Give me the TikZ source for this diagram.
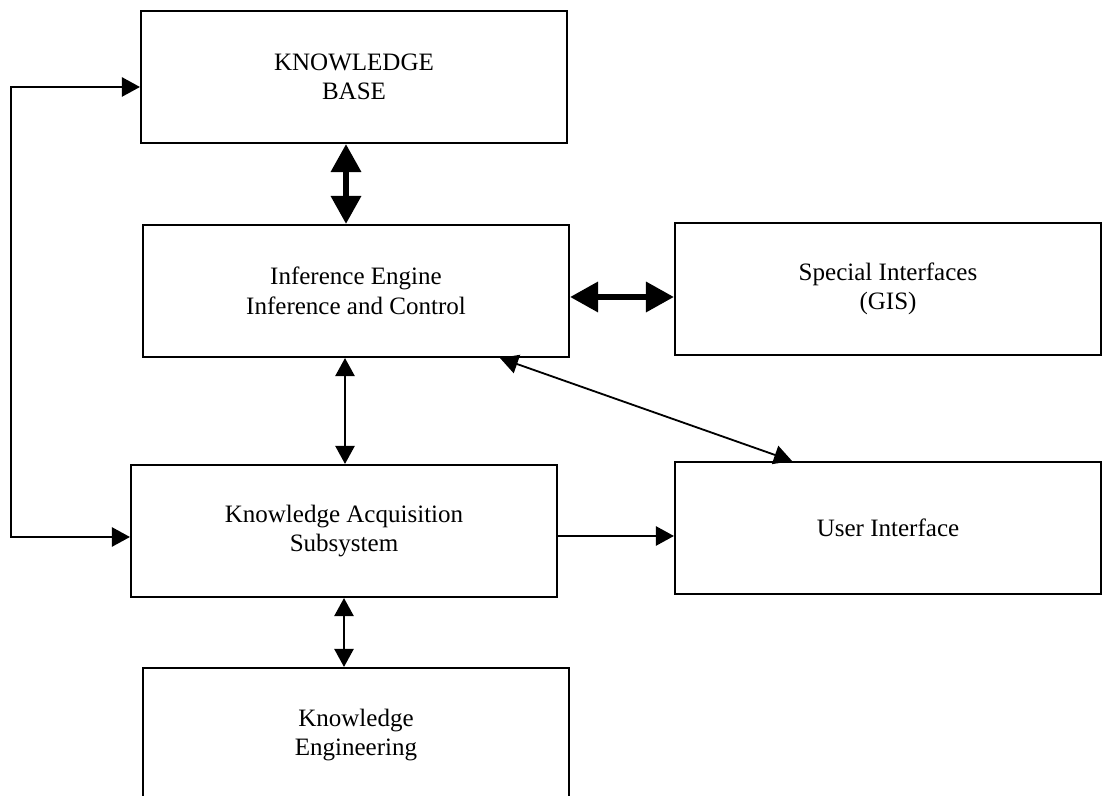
\documentclass[tikz,border=0pt]{standalone}
\usepackage{fontspec}
\setmainfont{Liberation Serif}
\usetikzlibrary{arrows.meta,positioning}

\begin{document}
\begin{tikzpicture}[
  x=1cm,y=1cm,
  box/.style={draw, line width=1.5pt, align=center, minimum width=10.65cm, minimum height=3.3cm, inner sep=0pt, font=\fontsize{17.8}{21}\selectfont},
  bigarr/.style={{Triangle[length=7mm,width=7.3mm]}-{Triangle[length=7mm,width=7.3mm]}, line width=4.2pt},
  arr/.style={-{Triangle[length=4.5mm,width=4.8mm]}, line width=1.3pt},
  dblarr/.style={{Triangle[length=4.5mm,width=4.8mm]}-{Triangle[length=4.5mm,width=4.8mm]}, line width=1.3pt}
]
\useasboundingbox (0,0) rectangle (27.6,19.9);
\node[box] (kb) at (8.85,17.975) {KNOWLEDGE\\BASE};
\node[box] (ie) at (8.9,12.625) {Inference Engine\\Inference and Control};
\node[box] (si) at (22.2,12.675) {Special Interfaces\\(GIS)};
\node[box] (ka) at (8.6,6.625) {Knowledge Acquisition\\Subsystem};
\node[box] (ui) at (22.2,6.7) {User Interface};
\node[box, minimum height=3.35cm] (ke) at (8.9,1.525) {Knowledge\\Engineering};
\coordinate (loop) at (0.28,0);
\draw[bigarr] ([xshift=-2mm]kb.south) -- ([xshift=-2mm]kb.south |- ie.north);
\draw[bigarr] ([yshift=-1.5mm]ie.east) -- ([yshift=-1.5mm]ie.east -| si.west);
\draw[dblarr] ([xshift=-2.75mm]ie.south) -- ([xshift=-2.75mm]ie.south |- ka.north);
\draw[dblarr] ([xshift=3.6cm]ie.south) -- ([xshift=-2.4cm]ui.north);
\draw[arr] ([yshift=-1.25mm]ka.east) -- ([yshift=-1.25mm]ka.east -| ui.west);
\draw[dblarr] (ka.south) -- (ka.south |- ke.north);
\draw[dblarr] ([yshift=-2.5mm]kb.west) -- ([yshift=-2.5mm]kb.west -| loop) -- ([yshift=-1.5mm]ka.west -| loop) -- ([yshift=-1.5mm]ka.west);
\end{tikzpicture}
\end{document}
